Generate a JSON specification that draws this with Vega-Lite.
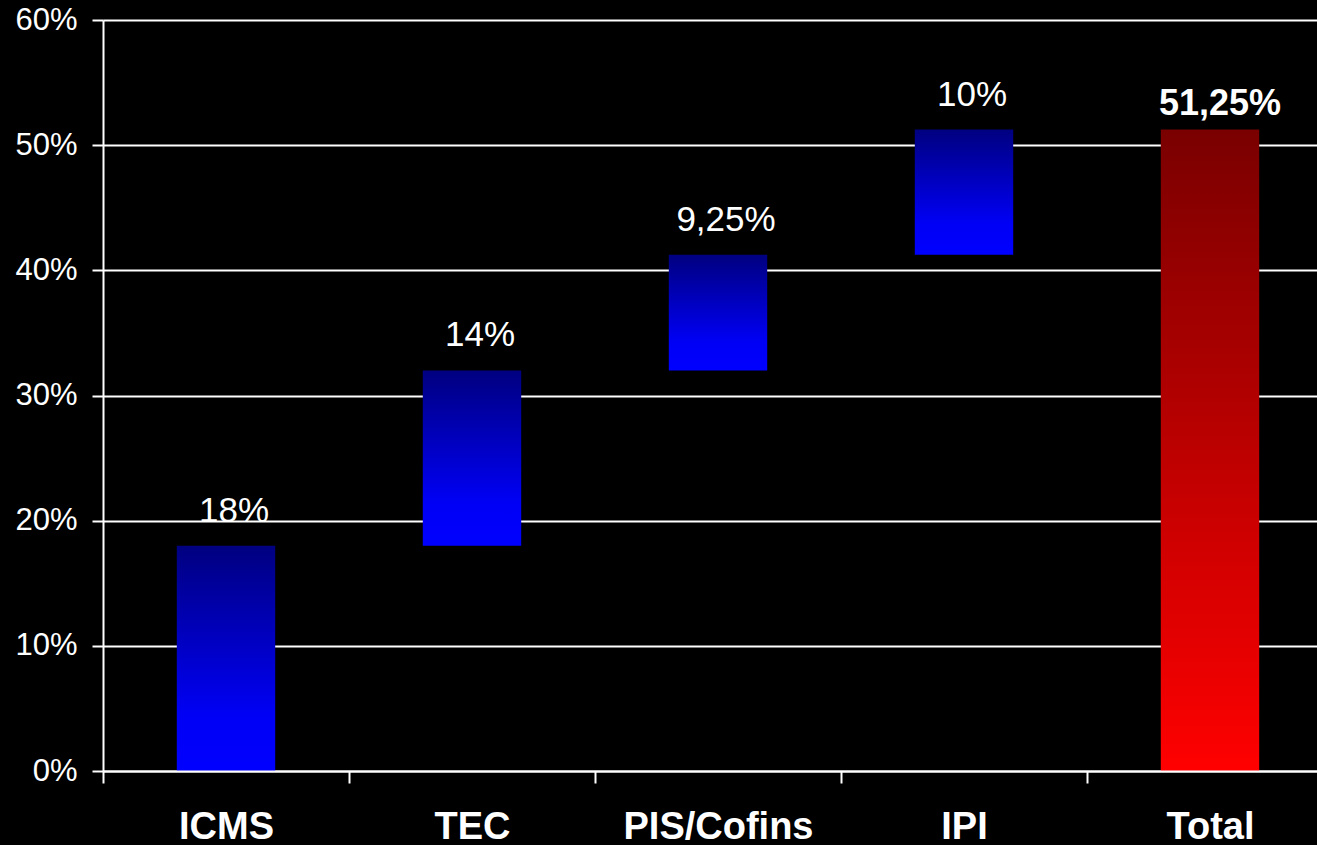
{
  "$schema": "https://vega.github.io/schema/vega-lite/v6.json",
  "width": 1230,
  "height": 751,
  "autosize": {"type": "none"},
  "padding": {"left": 103, "top": 20, "right": 0, "bottom": 74},
  "background": "#000000",
  "config": {
    "view": {"stroke": null},
    "font": "Liberation Sans"
  },
  "data": {
    "values": [
      {"cat": "ICMS", "start": 0, "end": 18, "label": "18%", "kind": "step"},
      {"cat": "TEC", "start": 18, "end": 32, "label": "14%", "kind": "step"},
      {"cat": "PIS/Cofins", "start": 32, "end": 41.25, "label": "9,25%", "kind": "step"},
      {"cat": "IPI", "start": 41.25, "end": 51.25, "label": "10%", "kind": "step"},
      {"cat": "Total", "start": 0, "end": 51.25, "label": "51,25%", "kind": "total"}
    ]
  },
  "encoding": {
    "x": {
      "field": "cat",
      "type": "nominal",
      "sort": null,
      "scale": {"paddingInner": 0, "paddingOuter": 0},
      "axis": {
        "title": null,
        "labelAngle": 0,
        "labelFontSize": 38,
        "labelFontWeight": "bold",
        "labelColor": "#ffffff",
        "labelPadding": 25,
        "labelLimit": 0,
        "labelFont": "Liberation Sans",
        "domainColor": "#ffffff",
        "domainWidth": 2,
        "tickColor": "#ffffff",
        "tickWidth": 2,
        "tickSize": 12,
        "tickBand": "extent",
        "grid": false,
        "zindex": 1
      }
    }
  },
  "layer": [
    {
      "mark": {"type": "bar", "cornerRadius": 0, "width": {"band": 0.4}},
      "encoding": {
        "y": {
          "field": "start",
          "type": "quantitative",
          "scale": {"domain": [0, 60], "nice": false},
          "axis": {
            "title": null,
            "values": [0, 10, 20, 30, 40, 50, 60],
            "labelExpr": "datum.value + '%'",
            "labelFontSize": 31,
            "labelColor": "#ffffff",
            "labelPadding": 15,
            "labelFont": "Liberation Sans",
            "domainColor": "#ffffff",
            "domainWidth": 2,
            "tickColor": "#ffffff",
            "tickWidth": 2,
            "tickSize": 11,
            "grid": true,
            "gridColor": "#ffffff",
            "gridWidth": 2,
            "gridOpacity": 1,
            "zindex": 0
          }
        },
        "y2": {"field": "end"},
        "fill": {
          "condition": {
            "test": "datum.kind === 'total'",
            "value": {
              "gradient": "linear",
              "x1": 0, "y1": 0, "x2": 0, "y2": 1,
              "stops": [
                {"offset": 0, "color": "#7a0000"},
                {"offset": 1, "color": "#ff0000"}
              ]
            }
          },
          "value": {
            "gradient": "linear",
            "x1": 0, "y1": 0, "x2": 0, "y2": 1,
            "stops": [
              {"offset": 0, "color": "#000080"},
              {"offset": 0.75, "color": "#0000f5"},
              {"offset": 1, "color": "#0000ff"}
            ]
          }
        }
      }
    },
    {
      "transform": [{"filter": "datum.kind === 'step'"}],
      "mark": {"type": "text", "fontSize": 35, "color": "#ffffff", "baseline": "alphabetic", "dy": -24, "dx": 8, "font": "Liberation Sans"},
      "encoding": {
        "y": {"field": "end", "type": "quantitative"},
        "text": {"field": "label"}
      }
    },
    {
      "transform": [{"filter": "datum.kind === 'total'"}],
      "mark": {"type": "text", "fontSize": 36, "fontWeight": "bold", "color": "#ffffff", "baseline": "alphabetic", "dy": -15, "dx": 10, "font": "Liberation Sans"},
      "encoding": {
        "y": {"field": "end", "type": "quantitative"},
        "text": {"field": "label"}
      }
    }
  ]
}
